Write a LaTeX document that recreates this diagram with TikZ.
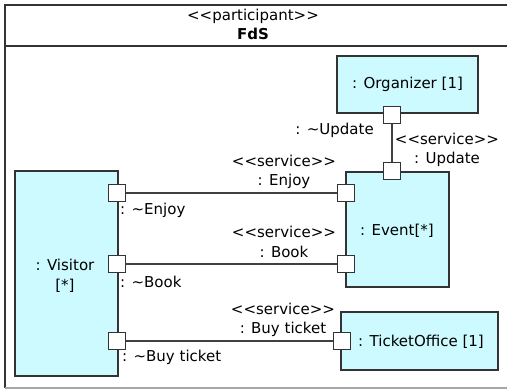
\documentclass[tikz,border=0pt]{standalone}
\usepackage{fontspec}
\setmainfont{DejaVu Sans}
\begin{document}
\begin{tikzpicture}[x=1pt,y=-1pt,
  every node/.style={font=\fontsize{15}{19.5}\selectfont, text=black},
  part/.style={draw=black!80, line width=1.1pt, fill=partfill, inner sep=0pt},
  port/.style={draw=black!80, line width=1.1pt, fill=white, minimum size=17pt, inner sep=0pt},
  wire/.style={draw=black!75, line width=1.1pt},
  lbl/.style={inner sep=0pt, align=center},
  lbll/.style={inner sep=0pt, anchor=west}]
\definecolor{partfill}{HTML}{CCFAFF}
\useasboundingbox (0,0) rectangle (507,389);
\fill[white] (0,0) rectangle (507,389);

% enclosing participant frame
\draw[black!80, line width=1.3pt] (512,5) -- (5,5) -- (5,388);
\draw[black!35, line width=1.3pt] (5,388) -- (512,388);
\draw[black!80, line width=1.3pt] (5,46) -- (512,46);
\node[lbl] (stereo) at (253,16) {<{}<participant>{}>};
\node[lbl, font=\fontsize{15}{19.5}\selectfont\bfseries] (fds) at (253,34) {FdS};

% parts
\node[part, minimum width=141pt, minimum height=57pt] (org) at (407.5,84.5) {: Organizer [1]};
\node[part, minimum width=103pt, minimum height=115pt] (event) at (397.5,229.5) {};
\node[lbl] (eventlbl) at (397,231) {: Event[*]};
\node[part, minimum width=103pt, minimum height=205pt] (visitor) at (66.5,273.5) {};
\node[lbl] (visitorlbl) at (65,276) {: Visitor\\{}[*]};
\node[part, minimum width=157pt, minimum height=58pt] (office) at (419.5,341) {};
\node[lbl] (officelbl) at (421,342) {: TicketOffice [1]};

% ports
\node[port] (porg) at (392,115) {};
\node[port] (pevup) at (392,171) {};
\node[port] (peven) at (346,193) {};
\node[port] (pevbk) at (346,264) {};
\node[port] (pvien) at (117,193) {};
\node[port] (pvibk) at (117,264) {};
\node[port] (pvibt) at (117,341) {};
\node[port] (poff) at (342,341) {};

% connectors
\draw[wire] (porg) -- (pevup);
\draw[wire] (pvien) -- (peven);
\draw[wire] (pvibk) -- (pevbk);
\draw[wire] (pvibt) -- (poff);

% connector and port labels
\node[lbl, anchor=east] (lupd) at (374,130) {: \char"7E Update};
\node[lbl] (lsupd) at (447,150) {<{}<service>{}>\\: Update};
\node[lbl] (lsen) at (284,172) {<{}<service>{}>\\: Enjoy};
\node[lbl] (lsbk) at (284,242) {<{}<service>{}>\\: Book};
\node[lbl] (lsbt) at (283,320) {<{}<service>{}>\\: Buy ticket};
\node[lbll] (len) at (120,210) {: \char"7E Enjoy};
\node[lbll] (lbk) at (120,282) {: \char"7E Book};
\node[lbll] (lbt) at (122,357) {: \char"7E Buy ticket};
\end{tikzpicture}
\end{document}
